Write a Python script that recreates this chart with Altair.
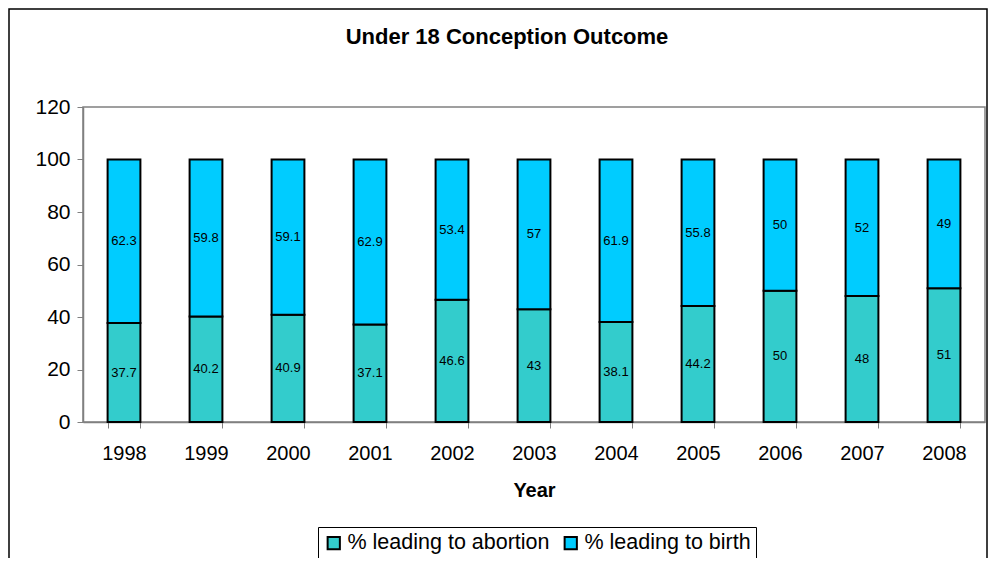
import altair as alt
import pandas as pd

years = ["1998", "1999", "2000", "2001", "2002", "2003", "2004", "2005", "2006", "2007", "2008"]
abortion = [37.7, 40.2, 40.9, 37.1, 46.6, 43, 38.1, 44.2, 50, 48, 51]
birth = [62.3, 59.8, 59.1, 62.9, 53.4, 57, 61.9, 55.8, 50, 52, 49]
series = ["% leading to abortion", "% leading to birth"]
colors = ["#33CCCC", "#00CCFF"]
y_ticks = [0, 20, 40, 60, 80, 100, 120]

rows = []
for i, yr in enumerate(years):
    rows.append({"year": yr, "series": series[0], "value": abortion[i], "order": 0})
    rows.append({"year": yr, "series": series[1], "value": birth[i], "order": 1})
df = pd.DataFrame(rows)

FONT = "Liberation Sans"
W, H = 902, 315

base = alt.Chart(df).transform_stack(
    stack="value", groupby=["year"], sort=[alt.SortField("order")], as_=["y0", "y1"]
).transform_calculate(mid="(datum.y0 + datum.y1) / 2")

xenc = alt.X(
    "year:N",
    title="Year",
    sort=years,
    scale=alt.Scale(paddingInner=0.6, paddingOuter=0.3),
    axis=alt.Axis(
        labelAngle=0, labelFontSize=20, labelFont=FONT, labelColor="black",
        tickBand="extent", tickSize=6, tickColor="#808080", domainColor="#808080",
        domainWidth=1.5, labelPadding=15, titleFontSize=20, titleFont=FONT,
        titleFontWeight="bold", titleColor="black", titlePadding=17,
    ),
)

bars = base.mark_bar(stroke="black", strokeWidth=2).encode(
    x=xenc,
    y=alt.Y(
        "y0:Q", title=None,
        scale=alt.Scale(domain=[0, 120], nice=False),
        axis=alt.Axis(
            values=y_ticks, grid=False, labelFontSize=21, labelFont=FONT,
            labelColor="black", tickSize=6, tickColor="#808080",
            domainColor="#808080", domainWidth=1.5, labelPadding=7,
        ),
    ),
    y2="y1:Q",
    color=alt.Color(
        "series:N",
        scale=alt.Scale(domain=series, range=colors),
        legend=alt.Legend(
            title=None, orient="none", direction="horizontal",
            legendX=235, legendY=420, strokeColor="black", padding=5,
            symbolType="square", symbolSize=150, symbolStrokeColor="black",
            symbolStrokeWidth=2, symbolOpacity=1, labelFontSize=21.5,
            labelFont=FONT, labelColor="black", columnPadding=10, labelOffset=3,
            labelLimit=400,
        ),
    ),
)

labels = base.mark_text(fontSize=13, font=FONT, color="black").encode(
    x=alt.X("year:N", sort=years),
    y=alt.Y("mid:Q"),
    text=alt.Text("value:Q"),
)

frame_df = pd.DataFrame({"k": [0]})
frame = alt.Chart(frame_df).mark_rect(fill=None, stroke="black", strokeWidth=1.5).encode(
    x=alt.value(-74), x2=alt.value(W + 2), y=alt.value(-98), y2=alt.value(H + 200)
)

chart = alt.layer(frame, bars, labels).properties(
    width=W, height=H,
    title=alt.TitleParams(
        "Under 18 Conception Outcome", fontSize=22, fontWeight="bold", font=FONT,
        color="black", anchor="middle", offset=-41, dx=-27, frame="group",
    ),
    autosize=alt.AutoSizeParams(type="none"),
    padding={"left": 75, "top": 99, "right": 3, "bottom": 136},
    background="white",
).configure_view(stroke="#808080", strokeWidth=1.5)

chart.save("out.html", embed_options={"renderer": "svg", "actions": False})
